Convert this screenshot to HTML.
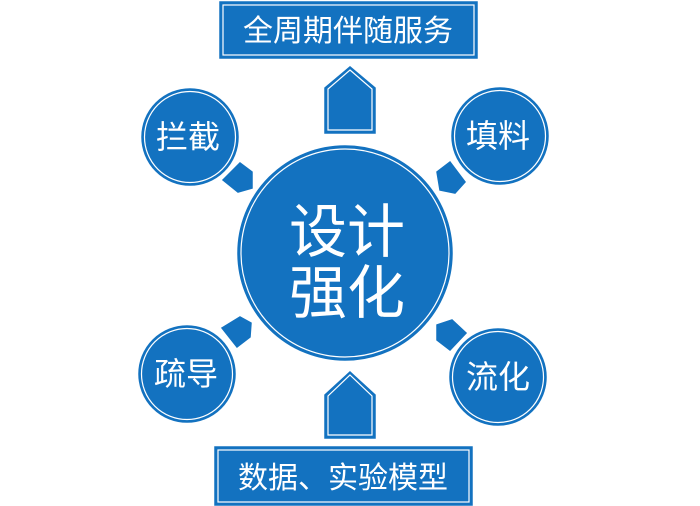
<!DOCTYPE html>
<html><head><meta charset="utf-8"><style>
html,body{margin:0;padding:0;background:#fff;width:700px;height:506px;overflow:hidden}
text{font-family:"Liberation Sans","Noto Sans CJK SC",sans-serif;fill:#fff}
</style></head><body>
<svg width="700" height="506" viewBox="0 0 700 506" xmlns="http://www.w3.org/2000/svg">
<g fill="#1372c0" stroke="#1372c0" stroke-width="1.5">
<rect x="220" y="2" width="257" height="56"/>
<rect x="215" y="447" width="257" height="58"/>
<polygon points="350,67 375,88 375,133 325,133 325,88"/>
<polygon points="350,372 375,395 375,438 325,438 325,395"/>
<polygon points="223,180 240,163 252,172 252,188 238,192"/>
<polygon points="437,172 450,162 465,182 455,193 440,190"/>
<polygon points="222,328 240,317 251,323 250,337 237,347"/>
<polygon points="437,325 452,320 466,333 450,350 437,340"/>
<circle cx="345" cy="253" r="107"/>
<circle cx="190" cy="137" r="48"/>
<circle cx="500" cy="136" r="48"/>
<circle cx="187" cy="374" r="48"/>
<circle cx="498" cy="377" r="48"/>
</g>
<g fill="none" stroke="#fff" stroke-width="1.2">
<rect x="223" y="5" width="251" height="50"/>
<rect x="218" y="450" width="251" height="52"/>
<polygon points="350,70 372,89 372,130 328,130 328,89"/>
<polygon points="350,375 372,396 372,435 328,435 328,396"/>
<circle cx="345" cy="253" r="104"/>
<circle cx="190" cy="137" r="45.5"/>
<circle cx="500" cy="136" r="45.5"/>
<circle cx="187" cy="374" r="45.5"/>
<circle cx="498" cy="377" r="45.5"/>
</g>
<text x="348" y="41" font-size="30" text-anchor="middle">全周期伴随服务</text>
<text x="343" y="488" font-size="30" text-anchor="middle">数据、实验模型</text>
<text x="347" y="252" font-size="58" text-anchor="middle">设计</text>
<text x="347" y="313" font-size="58" text-anchor="middle">强化</text>
<text x="188" y="148" font-size="32" text-anchor="middle">拦截</text>
<text x="498" y="147" font-size="32" text-anchor="middle">填料</text>
<text x="186" y="385" font-size="32" text-anchor="middle">疏导</text>
<text x="498" y="388" font-size="32" text-anchor="middle">流化</text>
</svg>
</body></html>
